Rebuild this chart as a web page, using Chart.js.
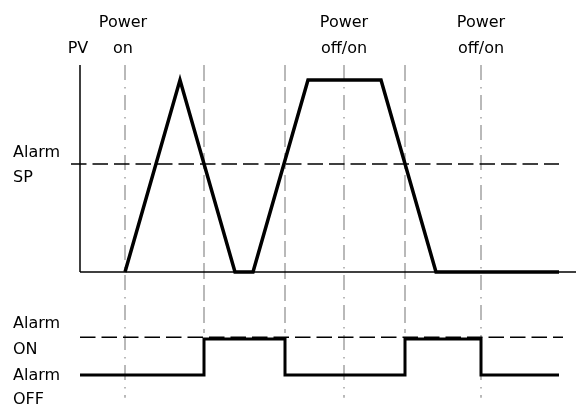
<!DOCTYPE html>
<html>
<head>
<meta charset="utf-8">
<script src="https://cdn.jsdelivr.net/npm/chart.js@4"></script>
<style>
  html, body { margin: 0; padding: 0; background: #fff; }
  canvas { display: block; }
</style>
</head>
<body>
<canvas id="chart" width="576" height="405"></canvas>
<script>
// time (arbitrary units) vs process value (% of peak)
var pvTime  = [9, 20, 31, 34.6, 45.6, 60.2, 71.2, 95.8];
var pvValue = [0, 100, 0, 0, 100, 100, 0, 0];

// alarm output: 0 = OFF, 1 = ON
var alarmTime  = [0, 24.8, 24.8, 41, 41, 65, 65, 80.2, 80.2, 95.8];
var alarmState = [0, 0, 1, 1, 0, 0, 1, 1, 0, 0];

var alarmSP = 56.25;
var spTime = [-1.8, 95.8];
var onTime = [0, 96.6];

var powerTimes  = [9, 52.8, 80.2];
var powerLabels = [['Power', 'on'], ['Power', 'off/on'], ['Power', 'off/on']];
var switchTimes = [24.8, 41, 65];

var axisTop = 107.8;

function seg(x0, y0, x1, y1, style, axis) {
  return Object.assign({
    data: [{x: x0, y: y0}, {x: x1, y: y1}],
    yAxisID: axis || 'y',
    pointRadius: 0,
    borderColor: '#000',
    borderWidth: 1.5,
    fill: false
  }, style);
}

var grey = '#a3a3a3';
// first dataset ends up on top
var datasets = [];

datasets.push({
  data: pvTime.map(function(t, i) { return {x: t, y: pvValue[i]}; }),
  yAxisID: 'y',
  borderColor: '#000',
  borderWidth: 3.5,
  pointRadius: 0,
  fill: false
});
datasets.push({
  data: alarmTime.map(function(t, i) { return {x: t, y: alarmState[i]}; }),
  yAxisID: 'y2',
  borderColor: '#000',
  borderWidth: 3,
  pointRadius: 0,
  fill: false
});

// alarm set point and ON level
datasets.push(seg(spTime[0], alarmSP, spTime[1], alarmSP, {borderDash: [15.5, 6]}));
datasets.push(seg(onTime[0], 1.05, onTime[1], 1.05, {borderDash: [15.5, 6]}, 'y2'));

// PV axes
datasets.push(seg(0, 0, 0, axisTop, {}));
datasets.push(seg(0, 0, 99.2, 0, {}));

// power events (dash-dot) and alarm switching points (dashed)
powerTimes.forEach(function(t) {
  datasets.push(seg(t, axisTop, t, -65.5, {borderColor: grey, borderDash: [15, 7, 1.5, 6.5]}));
});
switchTimes.forEach(function(t) {
  datasets.push(seg(t, axisTop, t, -31.8, {borderColor: grey, borderDash: [16, 6]}));
});

var textPlugin = {
  id: 'text',
  afterDraw: function(chart) {
    var ctx = chart.ctx;
    var x = chart.scales.x, y = chart.scales.y, y2 = chart.scales.y2;
    ctx.save();
    ctx.fillStyle = '#000';
    ctx.font = '16px "DejaVu Sans"';
    ctx.textBaseline = 'alphabetic';
    ctx.textAlign = 'center';
    powerTimes.forEach(function(t, i) {
      var px = x.getPixelForValue(t) - (i === 0 ? 2 : 0);
      ctx.fillText(powerLabels[i][0], px, 27);
      ctx.fillText(powerLabels[i][1], px, 53);
    });
    ctx.fillText('PV', x.getPixelForValue(0) - 2, 53);
    ctx.textAlign = 'left';
    var sp = y.getPixelForValue(alarmSP);
    ctx.fillText('Alarm', 13, sp - 7);
    ctx.fillText('SP', 13, sp + 18);
    var on = y2.getPixelForValue(1), off = y2.getPixelForValue(0);
    ctx.fillText('Alarm', 13, on - 11);
    ctx.fillText('ON', 13, on + 15);
    ctx.fillText('Alarm', 13, off + 5);
    ctx.fillText('OFF', 13, off + 29);
    ctx.restore();
  }
};

new Chart(document.getElementById('chart'), {
  type: 'line',
  data: {datasets: datasets},
  options: {
    responsive: false,
    animation: false,
    layout: {padding: 0},
    elements: {line: {tension: 0}},
    plugins: {legend: {display: false}, tooltip: {enabled: false}},
    scales: {
      x: {type: 'linear', display: false, min: -16, max: 99.2},
      y: {display: false, min: -69.27, max: 141.67},
      y2: {display: false, min: -0.833, max: 10.417}
    }
  },
  plugins: [textPlugin]
});
</script>
</body>
</html>
